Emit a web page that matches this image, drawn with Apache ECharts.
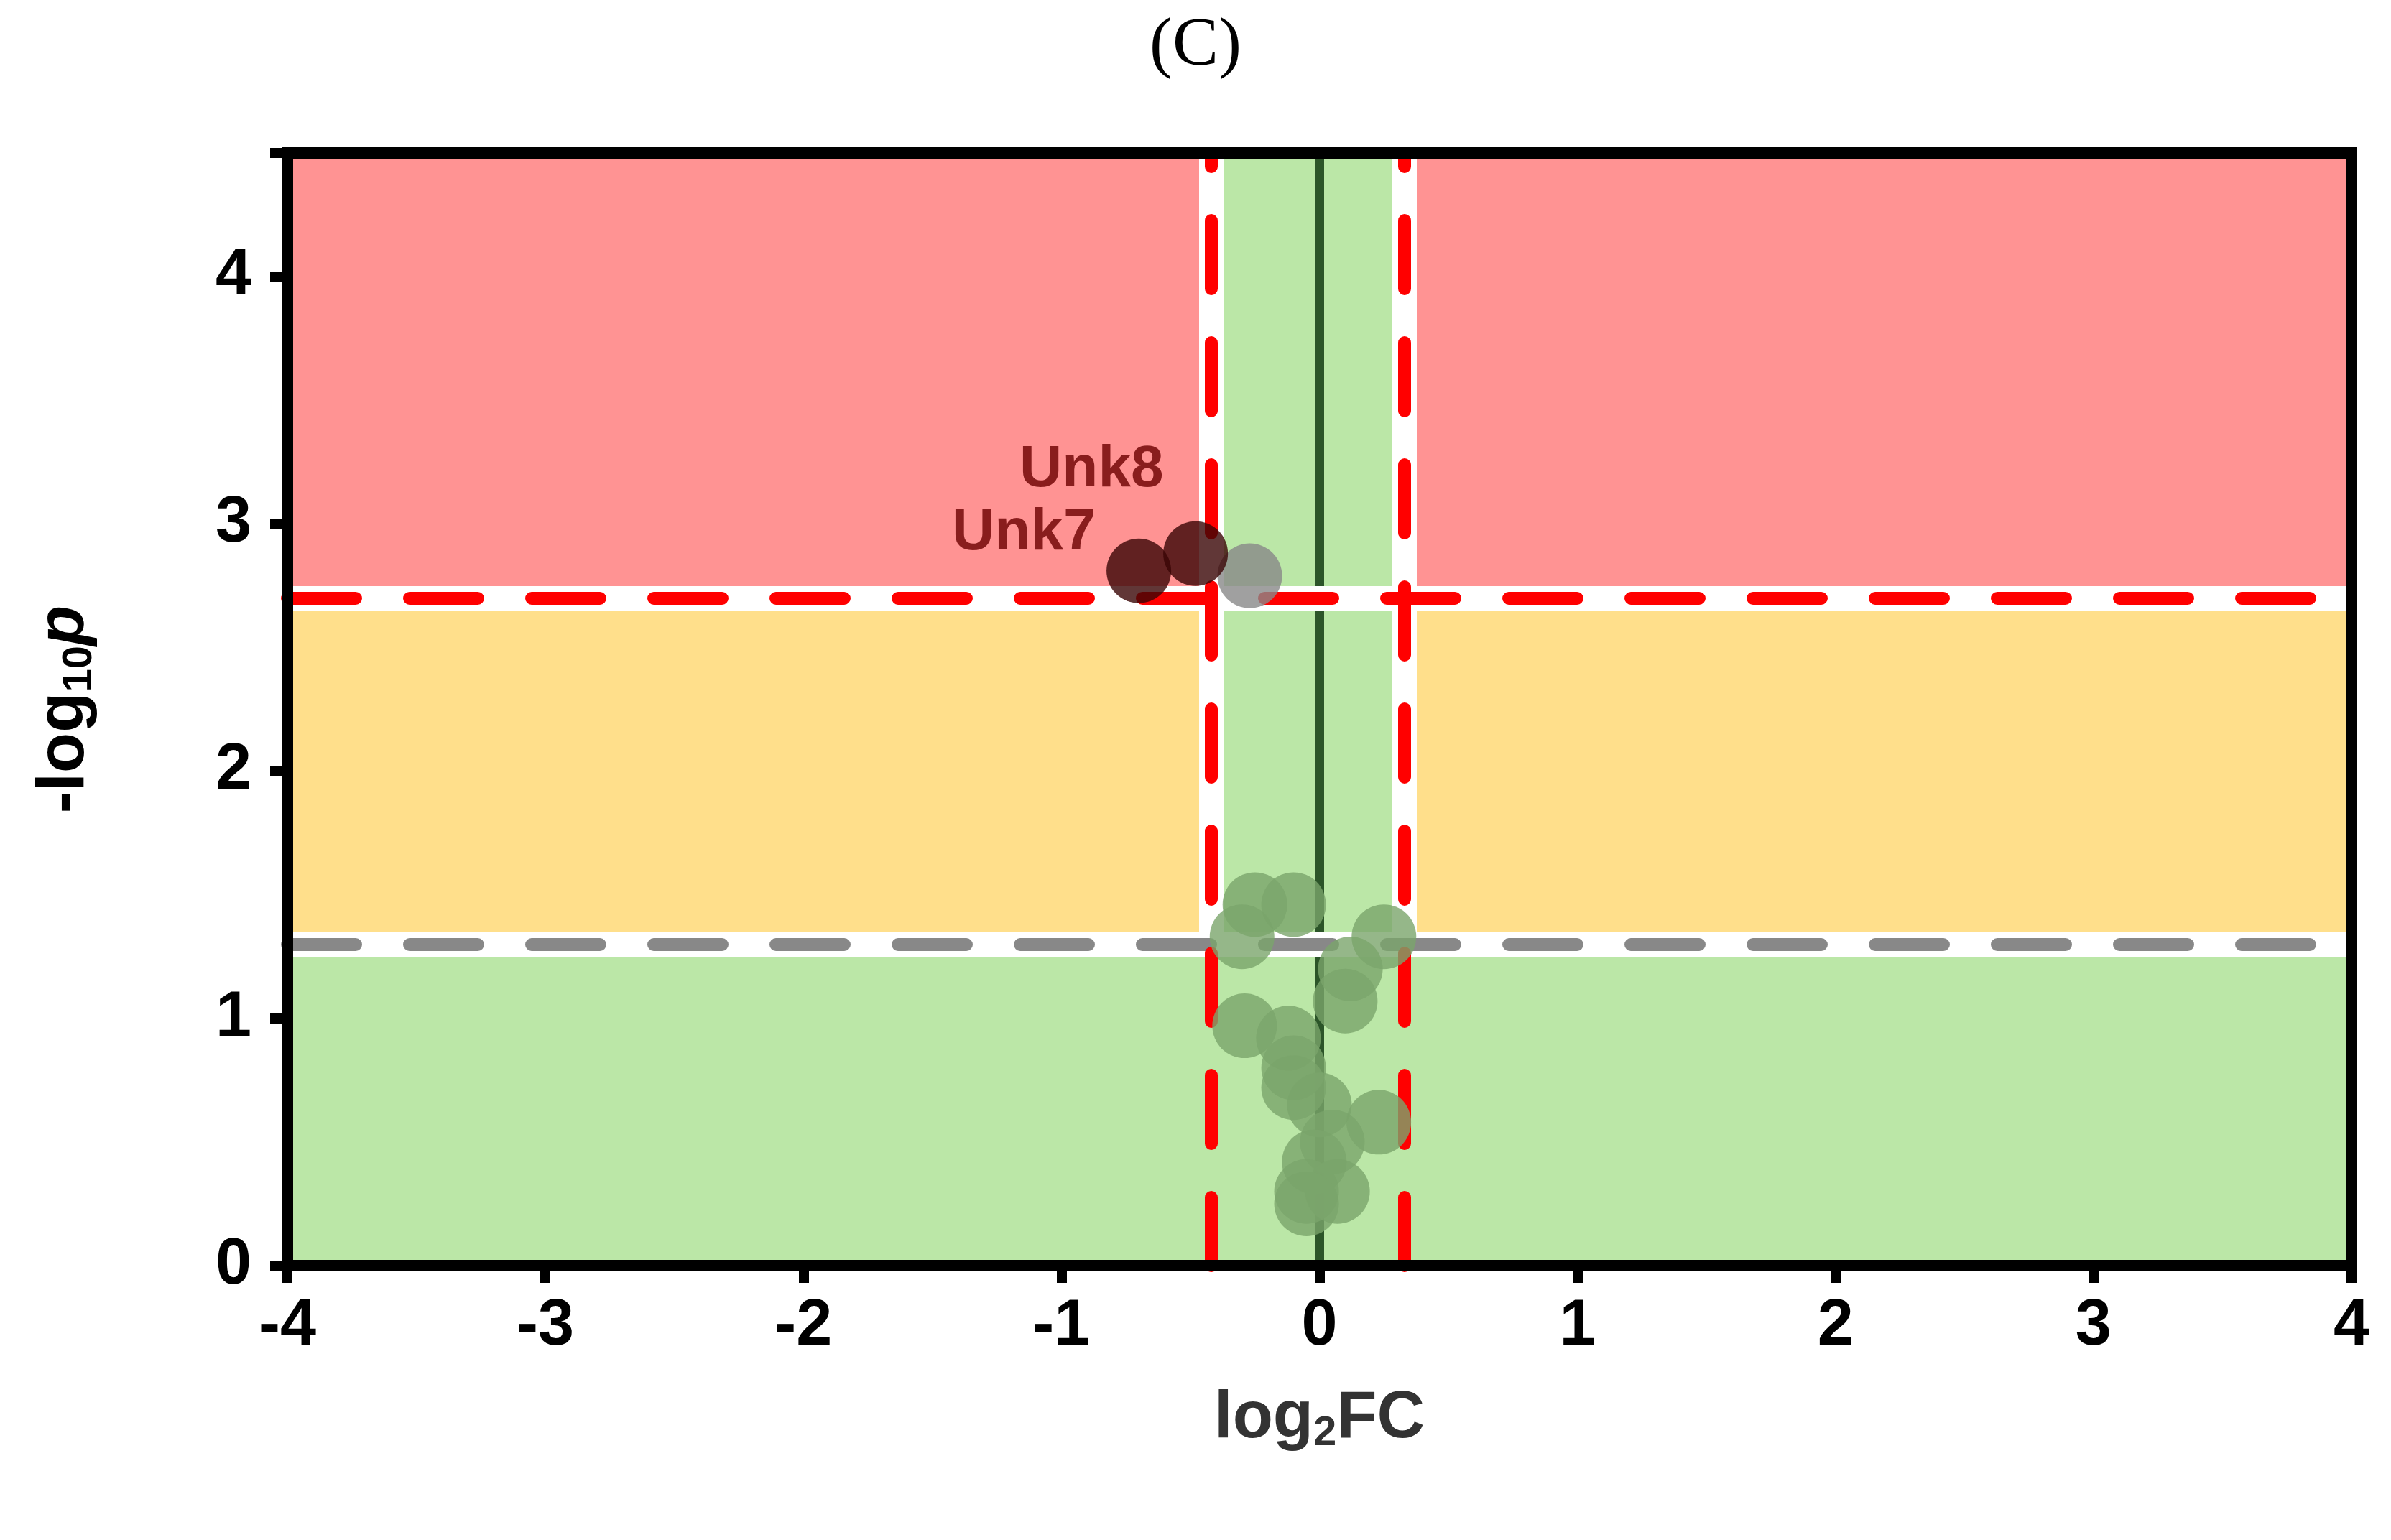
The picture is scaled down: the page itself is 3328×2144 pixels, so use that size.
<!DOCTYPE html><html><head><meta charset="utf-8">
<script src="https://cdn.jsdelivr.net/npm/echarts@6/dist/echarts.min.js"></script>
<style>html,body{margin:0;background:#fff}#c{width:3328px;height:2144px}</style></head><body><div id="c"></div>
<script>
const greenX = [-0.25,-0.10,-0.30,0.25,0.12,0.10,-0.29,-0.12,-0.10,-0.10,0.00,0.05,0.23,-0.02,-0.05,0.07,-0.05];
const greenY = [1.46,1.46,1.33,1.33,1.20,1.07,0.97,0.92,0.80,0.72,0.65,0.50,0.58,0.42,0.30,0.30,0.25];
const grayPt = [[-0.27,2.79]];
const sigNames = ['Unk7','Unk8'];
const sigX = [-0.70,-0.48];
const sigY = [2.81,2.88];
const fcLow = -0.42, fcHigh = 0.33, pHigh = 2.7, pLow = 1.3;
const xTicks = [-4,-3,-2,-1,0,1,2,3,4];
const yTicks = [0,1,2,3,4];

const RED='rgba(255,120,120,0.8)', YEL='rgba(255,215,110,0.8)', GRN='rgba(170,225,145,0.8)';
const W=34;
function seg(x1,y1,x2,y2,style){return [{coord:[x1,y1],lineStyle:style},{coord:[x2,y2]}];}
const white={color:'#fff',width:W,type:'solid'};
const chart=echarts.init(document.getElementById('c'));
chart.setOption({
 animation:false,
 title:{text:'(C)',left:'center',top:12,textStyle:{fontFamily:'Liberation Serif',fontSize:96,fontWeight:'normal',color:'#000'}},
 grid:{left:400,right:55,top:213,bottom:382},
 xAxis:{type:'value',min:-4,max:4,interval:1,name:'log{s|2}FC',nameLocation:'middle',nameGap:165,
   nameTextStyle:{fontFamily:'Liberation Sans',fontWeight:'bold',fontSize:92,color:'#333',
     rich:{s:{fontFamily:'Liberation Sans',fontWeight:'bold',fontSize:58,color:'#333',verticalAlign:'bottom',padding:[40,0,0,0]}}},
   axisLine:{onZero:false,lineStyle:{color:'#000',width:16}},axisTick:{length:24,lineStyle:{width:14,color:'#000'}},
   axisLabel:{fontFamily:'Liberation Sans',fontWeight:'bold',fontSize:90,color:'#000',margin:40},splitLine:{show:false}},
 yAxis:{type:'value',min:0,max:4.5,interval:1,name:'-log{s|10}{i|p}',nameLocation:'middle',nameGap:260,
   nameTextStyle:{fontFamily:'Liberation Sans',fontWeight:'bold',fontSize:92,color:'#000',
     rich:{s:{fontFamily:'Liberation Sans',fontWeight:'bold',fontSize:58,color:'#000',verticalAlign:'bottom',padding:[40,0,0,0]},
           i:{fontFamily:'Liberation Sans',fontWeight:'bold',fontStyle:'italic',fontSize:92,color:'#000'}}},
   axisLine:{onZero:false,lineStyle:{color:'#000',width:16}},axisTick:{length:24,lineStyle:{width:14,color:'#000'}},
   axisLabel:{fontFamily:'Liberation Sans',fontWeight:'bold',fontSize:90,color:'#000',margin:50,
     formatter:v=>yTicks.includes(v)?String(v):''},splitLine:{show:false}},
 series:[
  {type:'line',data:[],silent:true,z:1,
   markArea:{silent:true,data:[
    [{coord:[-4,pHigh],itemStyle:{color:RED}},{coord:[fcLow,4.5]}],
    [{coord:[fcHigh,pHigh],itemStyle:{color:RED}},{coord:[4,4.5]}],
    [{coord:[-4,pLow],itemStyle:{color:YEL}},{coord:[fcLow,pHigh]}],
    [{coord:[fcHigh,pLow],itemStyle:{color:YEL}},{coord:[4,pHigh]}],
    [{coord:[-4,0],itemStyle:{color:GRN}},{coord:[4,pLow]}],
    [{coord:[fcLow,pLow],itemStyle:{color:GRN}},{coord:[fcHigh,4.5]}]
   ]},
   markLine:{silent:true,symbol:'none',label:{show:false},data:[
    seg(0,0,0,4.5,{color:'rgba(20,60,20,0.85)',width:12,type:'solid'}),
    seg(-4,pHigh,4,pHigh,white), seg(-4,pLow,4,pLow,white),
    seg(fcLow,pLow,fcLow,4.5,white), seg(fcHigh,pLow,fcHigh,4.5,white),
    seg(-4,pHigh,4,pHigh,{color:'#ff0000',width:18,type:[95,75],cap:'round'}),
    seg(-4,pLow,4,pLow,{color:'#888',width:18,type:[95,75],cap:'round'}),
    seg(fcLow,0,fcLow,4.5,{color:'#ff0000',width:18,type:[95,75],cap:'round'}),
    seg(fcHigh,0,fcHigh,4.5,{color:'#ff0000',width:18,type:[95,75],cap:'round'})
   ]}},
  {type:'scatter',z:10,symbolSize:90,data:greenX.map((x,i)=>[x,greenY[i]]),itemStyle:{color:'#7ba56b'}},
  {type:'scatter',z:10,symbolSize:90,data:grayPt,itemStyle:{color:'#888'}},
  {type:'scatter',symbolSize:90,z:11,data:sigX.map((x,i)=>({value:[x,sigY[i]],name:sigNames[i],
     label:{show:true,formatter:'{b}',position:i===0?[-215,-48]:[-200,-112],
     color:'#6b0000',fontFamily:'Liberation Sans',fontWeight:'bold',fontSize:82}})),itemStyle:{color:'#3a0505'}}
 ]
});
const p0=chart.convertToPixel({gridIndex:0},[-4,0]);
const p1=chart.convertToPixel({gridIndex:0},[4,4.5]);
chart.setOption({graphic:[{type:'rect',z:100,silent:true,
  shape:{x:p0[0],y:p1[1],width:p1[0]-p0[0],height:p0[1]-p1[1]},
  style:{fill:null,stroke:'#000',lineWidth:16}}]});
</script></body></html>
